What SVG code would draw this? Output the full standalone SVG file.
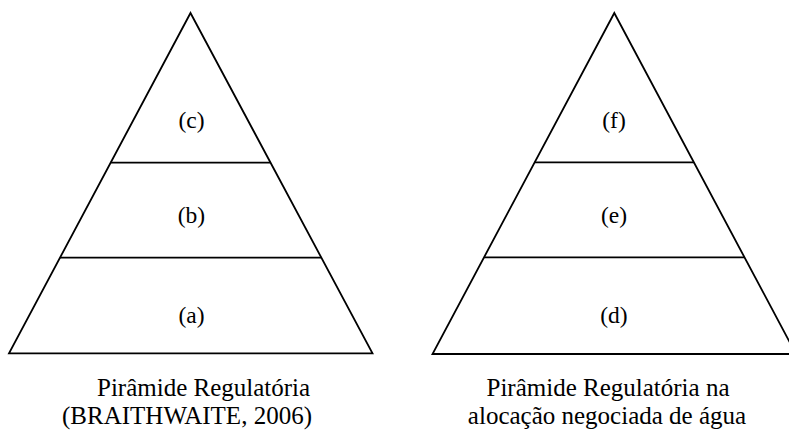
<svg xmlns="http://www.w3.org/2000/svg" width="789" height="434" viewBox="0 0 789 434">
<style>
.shape{fill:none;stroke:#000;stroke-width:1.8;stroke-linejoin:miter}
.sep{stroke:#000;stroke-width:1.8}
.lbl{font-family:"Liberation Serif","Times New Roman",serif;font-size:23.5px;fill:#000;text-anchor:middle}
.cap{font-family:"Liberation Serif","Times New Roman",serif;font-size:25px;fill:#000}
</style>
<rect width="789" height="434" fill="#fff"/>
<g id="pyramid-left">
<polygon class="shape" points="190.5,13 372.5,353.3 9,353.3"/>
<g id="tier-c"><text class="lbl" x="191.5" y="127.5">(c)</text></g>
<g id="tier-b"><text class="lbl" x="191.5" y="222.5">(b)</text></g>
<g id="tier-a"><text class="lbl" x="191.5" y="322.5">(a)</text></g>
</g>
<g id="pyramid-right">
<polygon class="shape" points="614.3,13 796,354 432.5,354"/>
<g id="tier-f"><text class="lbl" x="614" y="127.5">(f)</text></g>
<g id="tier-e"><text class="lbl" x="614" y="222.5">(e)</text></g>
<g id="tier-d"><text class="lbl" x="614" y="322.5">(d)</text></g>
</g>
<g id="connectors">
<line class="sep" x1="110.6" y1="162.7" x2="270.5" y2="162.7"/>
<line class="sep" x1="60" y1="257.7" x2="321" y2="257.7"/>
<line class="sep" x1="534.6" y1="162.3" x2="694" y2="162.3"/>
<line class="sep" x1="484" y1="257.3" x2="744.6" y2="257.3"/>
</g>
<g id="caption-left">
<text class="cap" x="97" y="396">Pirâmide Regulatória</text>
<text class="cap" x="62" y="424">(BRAITHWAITE, 2006)</text>
</g>
<g id="caption-right">
<text class="cap" x="608" y="396" text-anchor="middle">Pirâmide Regulatória na</text>
<text class="cap" x="607" y="424" text-anchor="middle">alocação negociada de água</text>
</g>
</svg>
